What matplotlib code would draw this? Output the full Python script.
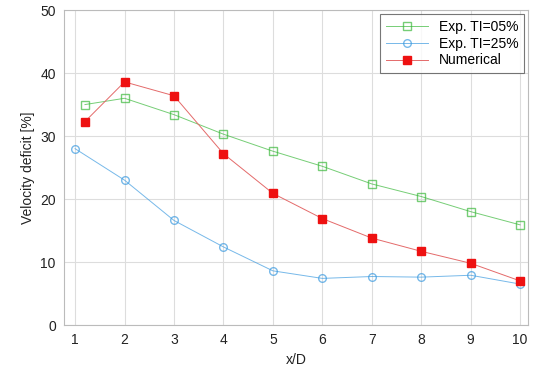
import numpy as np
from matplotlib import pyplot as plt

plt.rcParams['font.family'] = ['Liberation Sans', 'DejaVu Sans']

x_exp5 = [1.2, 2, 3, 4, 5, 6, 7, 8, 9, 10]
y_exp5 = [35.0, 36.0, 33.4, 30.3, 27.6, 25.2, 22.4, 20.4, 18.0, 15.9]
x_exp25 = [1, 2, 3, 4, 5, 6, 7, 8, 9, 10]
y_exp25 = [28.0, 23.0, 16.6, 12.4, 8.6, 7.4, 7.7, 7.6, 7.9, 6.5]
x_num = [1.2, 2, 3, 4, 5, 6, 7, 8, 9, 10]
y_num = [32.3, 38.6, 36.4, 27.2, 20.9, 16.9, 13.8, 11.7, 9.8, 7.0]

green = '#3cb93c'
blue = '#3d9be0'
red = '#ee1111'

fig = plt.figure(figsize=(5.35, 3.74), dpi=100)
ax = fig.add_axes([0.12, 0.131, 0.867, 0.842])

ax.plot(x_exp5, y_exp5, ls='-', lw=0.7, color=green, alpha=0.7, marker='s',
        markersize=5.5, markerfacecolor='none', markeredgecolor=green, markeredgewidth=1.0,
        label='Exp. TI=05%')
ax.plot(x_exp25, y_exp25, ls='-', lw=0.7, color=blue, alpha=0.7, marker='o',
        markersize=5.5, markerfacecolor='none', markeredgecolor=blue, markeredgewidth=1.0,
        label='Exp. TI=25%')
ax.plot(x_num, y_num, ls='-', lw=0.7, color='#e46a6a', marker='s',
        markersize=5.5, markerfacecolor=red, markeredgecolor=red,
        label='Numerical')

ax.set_xlim(0.78, 10.16)
ax.set_ylim(0, 50)
ax.set_xticks(range(1, 11))
ax.set_yticks(range(0, 51, 10))
ax.grid(True, color='#dddddd', lw=0.8)
ax.set_axisbelow(True)
for s in ax.spines.values():
    s.set_color('#bbbbbb')
ax.tick_params(direction='in', length=0, labelsize=10, colors='#222222', pad=6)
ax.set_xlabel('x/D', fontsize=10, color='#222222')
ax.set_ylabel('Velocity deficit [%]', fontsize=10, color='#222222')

leg = ax.legend(loc='upper right', fontsize=10, frameon=True, fancybox=False,
                handlelength=3, borderaxespad=0.3, labelspacing=0.2)
leg.get_frame().set_edgecolor('#555555')
leg.get_frame().set_linewidth(0.8)

fig.savefig('out.png')
